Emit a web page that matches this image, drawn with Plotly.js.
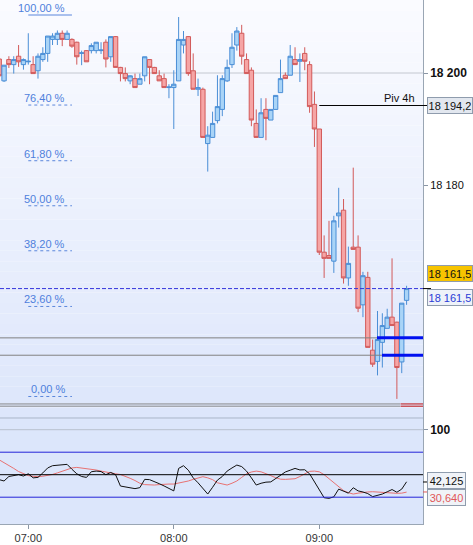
<!DOCTYPE html>
<html><head><meta charset="utf-8">
<script src="https://cdn.plot.ly/plotly-3.0.1.min.js"></script>
<style>html,body{margin:0;padding:0;background:#fff;}#chart{width:473px;height:545px;}</style>
</head><body><div id="chart"></div>
<script>
const day = '2024-01-15 ';
const times = ['06:48','06:50','06:52','06:54','06:56','06:58',
'07:00','07:02','07:04','07:06','07:08','07:10','07:12','07:14','07:16','07:18','07:20','07:22','07:24','07:26','07:28',
'07:30','07:32','07:34','07:36','07:38','07:40','07:42','07:44','07:46','07:48','07:50','07:52','07:54','07:56','07:58',
'08:00','08:02','08:04','08:06','08:08','08:10','08:12','08:14','08:16','08:18','08:20','08:22','08:24','08:26','08:28',
'08:30','08:32','08:34','08:36','08:38','08:40','08:42','08:44','08:46','08:48','08:50','08:52','08:54','08:56','08:58',
'09:00','09:02','09:04','09:06','09:08','09:10','09:12','09:14','09:16','09:18','09:20','09:22','09:24','09:26','09:28',
'09:30','09:32','09:34','09:36'];
const openP = [18202.5,18198.6,18202.4,18201.5,18203,18201.5,18202,18201.5,18200.4,18202.4,
18203.5,18206,18206,18207.1,18206,18206,18205.5,18203.5,18204,18204,
18204,18204,18205.5,18202.9,18206.5,18201,18199.9,18198.6,18199,18198,
18199.5,18202.4,18201,18199.5,18199,18197.4,18197.4,18198.6,18205,18206.5,
18200.4,18197.1,18197.1,18187.4,18188.5,18191.5,18193.5,18198.6,18201.5,18205,
18207.1,18202.4,18200.5,18191,18188.5,18193.5,18191.6,18193.5,18196.5,18199.6,
18199.6,18202.4,18202.1,18203.5,18201.5,18194.4,18190,18168,18167.4,18166.4,
18174.5,18175.5,18163.4,18168.9,18168.9,18158.6,18163.5,18150.5,18148.5,18151.9,
18154.4,18156.4,18155.5,18148.4,18159.4];
const highP = [18202.6,18201.4,18203,18203,18205,18202.6,18207.1,18203,18203.5,18204.6,
18206.6,18207.1,18207.6,18207.6,18207.6,18206.2,18205.6,18204,18204.1,18205.3,
18205.5,18205.5,18206,18206.5,18206.6,18201.1,18201,18199.6,18199.9,18199.9,
18202.9,18202.5,18201.1,18200.5,18199.9,18198,18200.5,18210,18207.5,18206.6,
18203.5,18199,18197.4,18190.5,18193.1,18199.6,18199.6,18202.4,18207.1,18208.2,
18208.6,18203.5,18201,18193.5,18195.5,18195.5,18193.5,18196,18202.4,18200.1,
18205,18204.6,18203.5,18204.6,18202.1,18196.7,18190,18171,18173.6,18174.5,
18179.5,18177.5,18169,18183.1,18171,18164.5,18164.5,18152.4,18157.5,18157.1,
18157.9,18166.9,18155.6,18158.9,18162];
const lowP = [18199.5,18198.4,18200.9,18199.9,18201.1,18200.6,18201.5,18199.9,18199,18202,
18202,18205,18205,18204.8,18206,18204.5,18201.5,18201.4,18202,18203.5,
18203.5,18203.4,18201,18202,18201,18198.5,18198.5,18198,18197.4,18198,
18198.5,18198,18199.9,18198.6,18197.4,18195.5,18190,18198.6,18203.5,18199.5,
18197.1,18195.9,18188.5,18182.4,18188.5,18191,18192.3,18198.4,18200.9,18204,
18201.5,18199.9,18190.5,18188.5,18188.5,18188,18191.6,18193.5,18196.5,18199,
18199.6,18201.5,18198.4,18200.5,18192.9,18186.8,18167.5,18163.4,18166.9,18164.3,
18172.4,18162.4,18162,18168.5,18157.3,18156.4,18151,18147.5,18146,18147.4,
18154.4,18154.9,18141.8,18146.4,18158.6];
const closeP = [18199.5,18201.4,18201.5,18202.4,18202,18202.4,18202.1,18199.9,18203,18203.5,
18206.6,18206.6,18207.1,18206,18207.1,18204.8,18202.9,18203.6,18202,18204.9,
18205.5,18204.1,18202.5,18206.5,18201,18199.9,18199,18199.5,18197.4,18199,
18202.9,18201,18199.9,18198.6,18197.4,18197.5,18198,18206,18206,18199.9,
18197.1,18197.4,18188.5,18188.9,18191,18194,18199,18201,18204.6,18207.5,
18203,18199.9,18191.6,18188.5,18192.9,18191.9,18193.5,18196,18199,18199,
18203,18201.5,18202.4,18202.1,18194,18190,18168,18166.9,18166.9,18173.6,
18175,18163.4,18166,18168.5,18158,18163.8,18151,18148,18152.4,18154.9,
18156.4,18154.9,18147.4,18158.9,18161.5];
const osc = [44.5,43,48,48.8,50,48.5,51,46.5,47,52,
57.5,60,60.7,61,61.5,56,51,48,47,53.3,
54,53.5,50,52.5,50,37.4,36.2,35.4,34.5,35.6,
44.8,44.5,42.5,40,37.5,34.5,32,57,60,55,
46.5,41,35,28.5,36,44,48,54,57.5,60.7,
59,54,46.5,38.5,40.5,41.7,42,46,50,53,
55,57,55.3,55.5,51,42,33,24.4,23.7,25.4,
34,31.5,29.5,35.5,32,30.8,29,25.6,26.7,28.5,
31,33.5,30.5,34,42.125];
const signal = [66.5,63.5,60.5,57,53.5,51,49,48.2,47.8,48.3,
49.2,50.3,52,54,56,57.5,58.1,57.5,57,56.2,
55.2,54,52.8,51.8,51,50.2,48.5,46,43.5,40.5,
39,38.5,38.5,39,39.6,39.6,39.6,40.5,41.5,43,
44.8,46.5,47.8,46.5,44.5,41,39.5,38.5,40.5,43,
47,51,53,54,53.2,51.5,49,46.7,45,44.8,
44.8,45.5,48,51,53.7,54,53.2,50,45.5,40.5,
36,32.3,30,28.5,29.5,30.5,30.8,31.1,30.7,30,
29.7,29.3,29.3,29.5,30.64];
const fibLevels = [100, 76.4, 61.8, 50, 38.2, 23.6, 0];
const fibLabels = ['100,00 %','76,40 %','61,80 %','50,00 %','38,20 %','23,60 %','0,00 %'];
const fibHigh = 18210.36, fibLow = 18142.23;
const pivot = 18194.2, pivotLabel = 'Piv 4h', pivotText = '18 194,2';
const lastPrice = 18161.5, lastText = '18 161,5';
const supportLines = [18152.7, 18149.6];
const supportBlueStart = ['09:23:48','09:25:52'];
const lowLines = [18140.9, 18140.5];
const oscLevels = [75, 50, 25];
const oscLastText = '42,125', sigLastText = '30,640';
const priceTicks = [18180, 18200], priceTickText = ['18 180', '<b><span style="font-size:12px">18 200</span></b>'];
const xTicks = ['07:00','08:00','09:00'];

const FONT = 'Liberation Sans, Arial, sans-serif';
const T = s => day + s;
const xStart = T('06:48:20'), xEnd = T('09:42:46');
const split = 0.2023;

const traces = [
  {type:'candlestick', x: times.map(T), open: openP, high: highP, low: lowP, close: closeP,
   xaxis:'x', yaxis:'y', whiskerwidth:0, hoverinfo:'skip',
   increasing:{line:{color:'#4a8ed6', width:1}, fillcolor:'#a9d4f7'},
   decreasing:{line:{color:'#d25a5a', width:1}, fillcolor:'#f6a5a5'}},
  {type:'scatter', mode:'lines', x: times.map(T), y: signal, xaxis:'x', yaxis:'y2',
   line:{color:'#e87272', width:1}, hoverinfo:'skip'},
  {type:'scatter', mode:'lines', x: times.map(T), y: osc, xaxis:'x', yaxis:'y2',
   line:{color:'#111111', width:1}, hoverinfo:'skip'}
];

const shapes = [];
const N = 40, c0 = [250,251,255], c1 = [221,230,251];
for (let i = 0; i < N; i++) {
  const t = i / (N - 1);
  const c = c0.map((v, j) => Math.round(v + (c1[j] - v) * t));
  const yTop = 1 - i * (1 - split) / N, yBot = 1 - (i + 1) * (1 - split) / N;
  shapes.push({type:'rect', xref:'paper', yref:'paper', x0:0, x1:1, y0:yBot, y1:yTop,
    fillcolor:`rgb(${c[0]},${c[1]},${c[2]})`, line:{width:0}, layer:'below'});
}
shapes.push({type:'rect', xref:'paper', yref:'paper', x0:0, x1:1, y0:0, y1:split,
  fillcolor:'#dce6fb', line:{width:0}, layer:'below'});
shapes.push({type:'line', xref:'paper', yref:'y', x0:0, x1:1, y0:18200, y1:18200, line:{color:'#c4c8d0', width:1}, layer:'below'});
shapes.push({type:'line', xref:'paper', yref:'y2', x0:0, x1:1, y0:100, y1:100, line:{color:'#b8c0ce', width:1}, layer:'below'});
shapes.push({type:'line', xref:'paper', yref:'paper', x0:0, x1:1, y0:split, y1:split, line:{color:'#aab5c8', width:1}});
fibLevels.forEach((lv, i) => {
  const p = fibLow + lv / 100 * (fibHigh - fibLow);
  shapes.push({type:'line', xref:'x', yref:'y', x0:T('07:00'), x1:T('07:18'), y0:p, y1:p,
    line:{color:'#5a86dc', width:1, dash: i === 0 ? 'solid' : '3px,3px'}});
});
lowLines.forEach(p => {
  shapes.push({type:'line', xref:'x', yref:'y', x0:xStart, x1:T('09:33:17'), y0:p, y1:p, line:{color:'#8a8a8a', width:1}});
  shapes.push({type:'line', xref:'x', yref:'y', x0:T('09:33:30'), x1:xEnd, y0:p, y1:p, line:{color:'#c01010', width:1}});
});
supportLines.forEach((p, i) => {
  shapes.push({type:'line', xref:'x', yref:'y', x0:xStart, x1:T(supportBlueStart[i]), y0:p, y1:p, line:{color:'#808080', width:1}});
  shapes.push({type:'line', xref:'x', yref:'y', x0:T(supportBlueStart[i]), x1:xEnd, y0:p, y1:p, line:{color:'#0010f0', width:3}});
});
shapes.push({type:'line', xref:'paper', yref:'y', x0:319.3/423, x1:427/423, y0:pivot, y1:pivot, line:{color:'#000', width:1}});
shapes.push({type:'line', xref:'paper', yref:'y', x0:0, x1:1, y0:lastPrice, y1:lastPrice, line:{color:'#3535dc', width:1, dash:'4px,2px'}});
shapes.push({type:'line', xref:'paper', yref:'y', x0:1, x1:431/423, y0:lastPrice, y1:lastPrice, line:{color:'#000', width:1}});
oscLevels.forEach(v => {
  shapes.push({type:'line', xref:'paper', yref:'y2', x0:0, x1:1, y0:v, y1:v,
    line:{color: v === 50 ? '#000000' : '#2424d8', width:1}});
});
shapes.push({type:'line', xref:'paper', yref:'y2', x0:1, x1:427/423, y0:41.9, y1:41.9, line:{color:'#000', width:1}});
shapes.push({type:'line', xref:'paper', yref:'y2', x0:1, x1:427/423, y0:30.8, y1:30.8, line:{color:'#e05858', width:1}});

const annotations = [];
fibLevels.forEach((lv, i) => {
  const p = fibLow + lv / 100 * (fibHigh - fibLow);
  annotations.push({xref:'x', yref:'y', x:T('07:15:33'), y:p, xanchor:'right', yanchor:'bottom', yshift:0,
    text: fibLabels[i], showarrow:false, font:{family:FONT, size:11, color:'#4f7fdc'}, borderpad:0});
});
annotations.push({xref:'paper', yref:'y', x:416/423, y:pivot, xanchor:'right', yanchor:'bottom', text:pivotLabel,
  showarrow:false, font:{family:FONT, size:11, color:'#111'}, borderpad:0});
const box = (yref, y, text, bg, col) => ({xref:'paper', yref, x:1, y, xanchor:'left', yanchor:'middle', xshift:4,
  text, showarrow:false, font:{family:FONT, size:11, color:col}, bgcolor:bg, bordercolor:'#8f9cad', borderwidth:1,
  borderpad:1, width:42, height:13, align:'center'});
annotations.push(box('y', pivot, pivotText, '#e2e7ef', '#111'));
annotations.push(box('y', 18164.2, lastText, '#f7c400', '#111'));
annotations.push(box('y', 18159.9, lastText, '#eef2f9', '#2a3cd6'));
annotations.push(Object.assign(box('y2', 43.6, oscLastText, '#f0f3f8', '#111'), {width:35}));
annotations.push(Object.assign(box('y2', 25.2, sigLastText, '#f0f3f8', '#e05858'), {width:35}));

const layout = {
  width:473, height:545, margin:{l:0, r:50, t:0, b:21},
  paper_bgcolor:'#ffffff', plot_bgcolor:'rgba(0,0,0,0)', showlegend:false, boxgap:0.1, boxgroupgap:0,
  font:{family:FONT, size:11, color:'#111'},
  xaxis:{type:'date', range:[xStart, xEnd], anchor:'y2', rangeslider:{visible:false},
    tickvals: xTicks.map(T), ticktext: xTicks, ticks:'outside', ticklen:4, tickcolor:'#8a96a6',
    showgrid:false, zeroline:false, showline:true, linecolor:'#9aa6b4', linewidth:1,
    tickfont:{family:FONT, size:11, color:'#333'}},
  yaxis:{domain:[split, 1], range:[18138.39, 18213.04], side:'right', anchor:'x',
    tickvals: priceTicks, ticktext: priceTickText, ticks:'outside', ticklen:4, tickcolor:'#8a96a6',
    showgrid:false, zeroline:false, showline:true, linecolor:'#9aa6b4',
    tickfont:{family:FONT, size:11, color:'#111'}},
  yaxis2:{domain:[0, split], range:[-4.78, 113], side:'right', anchor:'x',
    tickvals:[100], ticktext:['<b><span style="font-size:12px">100</span></b>'], ticks:'outside', ticklen:4, tickcolor:'#8a96a6',
    showgrid:false, zeroline:false, showline:true, linecolor:'#9aa6b4',
    tickfont:{family:FONT, size:11, color:'#111'}},
  shapes, annotations
};
Plotly.newPlot('chart', traces, layout, {staticPlot:true, displayModeBar:false});
</script></body></html>
